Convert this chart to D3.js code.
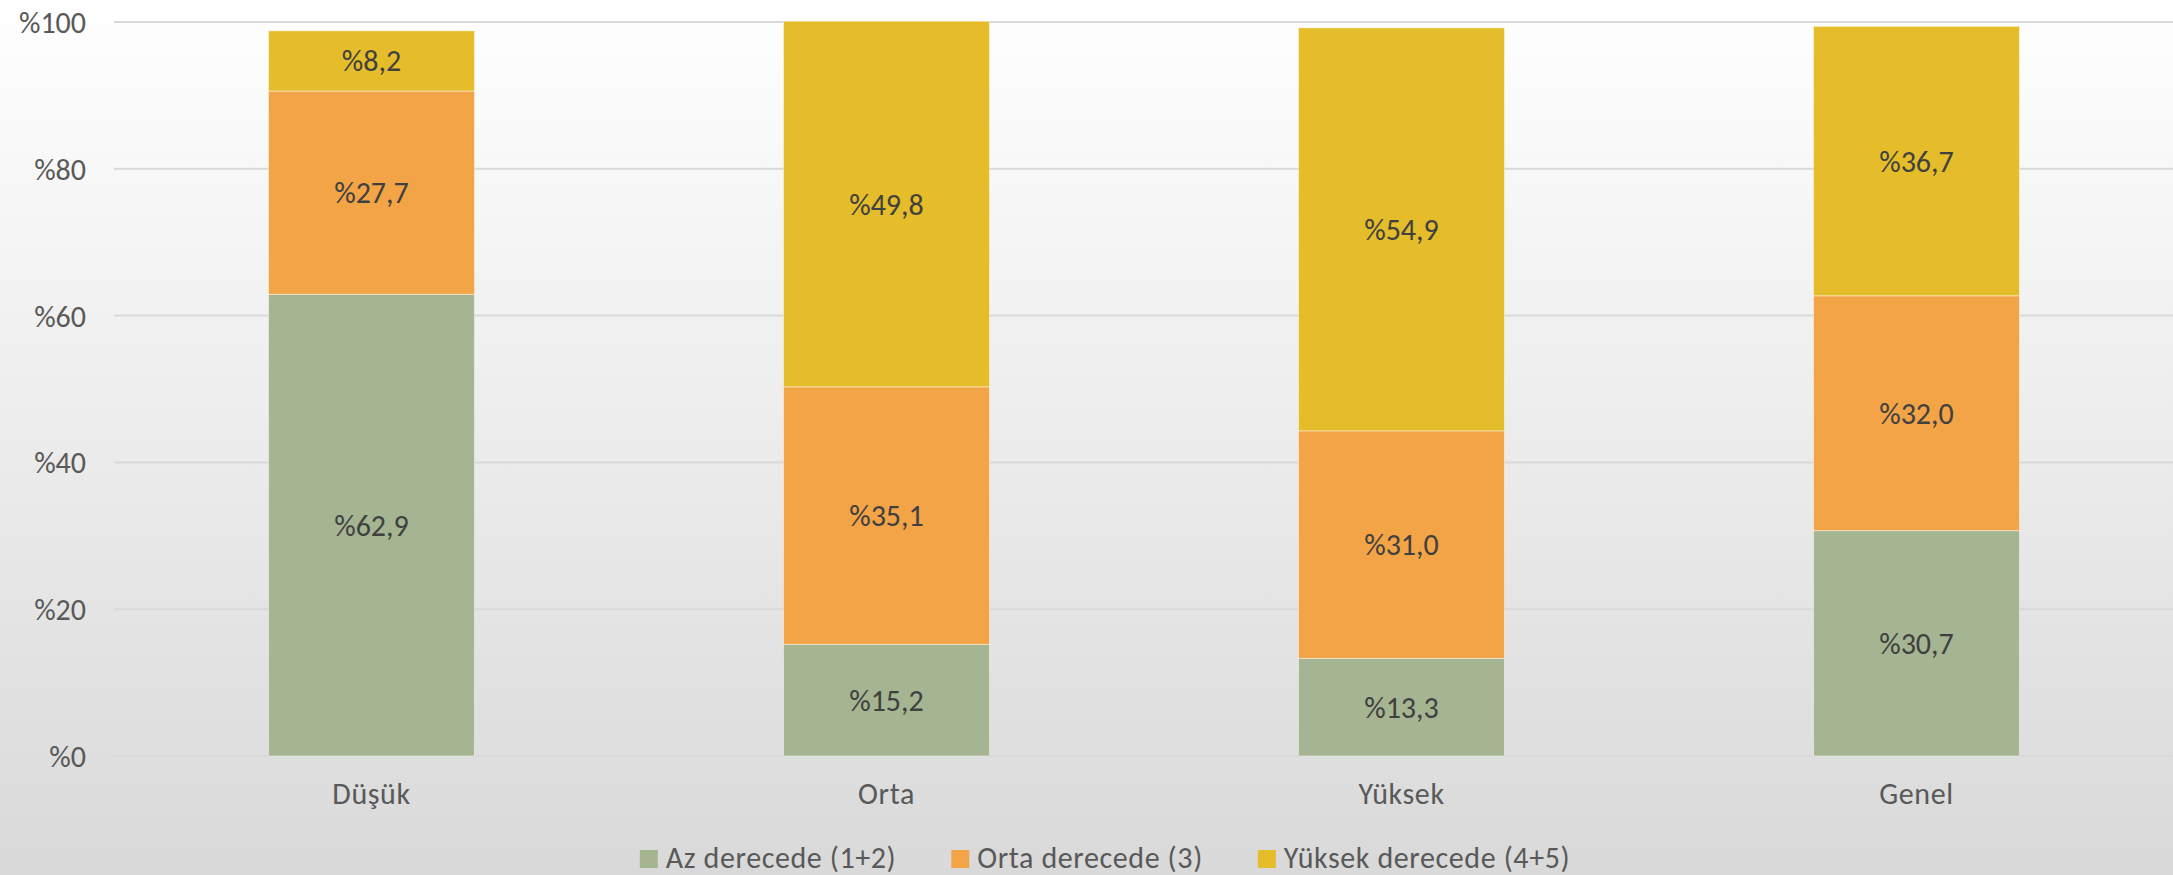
<!DOCTYPE html>
<html>
<head>
<meta charset="utf-8">
<script src="https://cdn.jsdelivr.net/npm/d3@7"></script>
<style>
  html, body { margin: 0; padding: 0; }
  body { width: 2173px; height: 875px; overflow: hidden; }
  svg { display: block; }
  text { font-family: Carlito, Lato, "Open Sans", sans-serif; }
</style>
</head>
<body>
<svg id="chart" width="2173" height="875"></svg>
<script>
const categories = ["Düşük", "Orta", "Yüksek", "Genel"];
const seriesNames = ["Az derecede (1+2)", "Orta derecede (3)", "Yüksek derecede (4+5)"];
const azValues = [62.9, 15.2, 13.3, 30.7];
const ortaValues = [27.7, 35.1, 31.0, 32.0];
const yuksekValues = [8.2, 49.8, 54.9, 36.7];
const yTicks = [0, 20, 40, 60, 80, 100];
const colors = ["#A5B592", "#F3A447", "#E5BC29"];

const W = 2173, H = 875;
const FS = 30;
const svg = d3.select("#chart");

// background gradient
const defs = svg.append("defs");
const grad = defs.append("linearGradient").attr("id", "bg").attr("x1", 0).attr("y1", 0).attr("x2", 0).attr("y2", 1);
grad.append("stop").attr("offset", "0%").attr("stop-color", "#ffffff");
grad.append("stop").attr("offset", "100%").attr("stop-color", "#d9d9d9");
svg.append("rect").attr("width", W).attr("height", H).attr("fill", "url(#bg)");

const x = d3.scaleBand().domain(categories).range([114, 2174]).paddingInner(0.6).paddingOuter(0.3);
const y = d3.scaleLinear().domain([0, 100]).range([756, 22]);

// gridlines
svg.append("g").selectAll("line").data(yTicks).join("line")
  .attr("x1", 114).attr("x2", W)
  .attr("y1", d => y(d)).attr("y2", d => y(d))
  .attr("stroke", "#d9d9d9").attr("stroke-width", 2);

// y axis labels
const yAxis = d3.axisLeft(y).tickValues(yTicks).tickSize(0).tickPadding(0).tickFormat(d => "%" + d);
const yg = svg.append("g").attr("transform", "translate(86,0)").call(yAxis);
yg.select(".domain").remove();
yg.selectAll("text").attr("font-size", FS).attr("fill", "#595959")
  .style("font-family", "Carlito, Lato, 'Open Sans', sans-serif").attr("dy", "0.35em");

// stacked data
const rows = categories.map((c, i) => ({ cat: c, s0: azValues[i], s1: ortaValues[i], s2: yuksekValues[i] }));
const stack = d3.stack().keys(["s0", "s1", "s2"]);
const stacked = stack(rows);

const fmt = v => "%" + v.toFixed(1).replace(".", ",");

const layers = svg.append("g").selectAll("g").data(stacked).join("g")
  .attr("fill", (d, i) => colors[i]);
layers.selectAll("rect").data(d => d).join("rect")
  .attr("x", d => x(d.data.cat))
  .attr("width", x.bandwidth())
  .attr("y", d => y(d[1]))
  .attr("height", d => y(d[0]) - y(d[1]))
  .attr("stroke", "rgba(255,255,255,0.45)").attr("stroke-width", 1);

// data labels
const labels = svg.append("g");
stacked.forEach((layer, li) => {
  labels.selectAll(null).data(layer).join("text")
    .attr("x", d => x(d.data.cat) + x.bandwidth() / 2)
    .attr("y", d => y((d[0] + d[1]) / 2))
    .attr("dy", "0.35em")
    .attr("text-anchor", "middle")
    .attr("font-size", FS)
    .attr("fill", "#404040")
    .text(d => fmt(d.data[layer.key]));
});

// x axis labels
const xAxis = d3.axisBottom(x).tickSize(0).tickPadding(0);
const xg = svg.append("g").attr("transform", "translate(0,804)").call(xAxis);
xg.select(".domain").remove();
xg.selectAll("text").attr("font-size", FS).attr("fill", "#595959")
  .style("font-family", "Carlito, Lato, 'Open Sans', sans-serif")
  .style("letter-spacing", "0.6px").attr("y", 0).attr("dy", "0em");

// legend
const legend = svg.append("g");
const items = legend.selectAll("g").data(seriesNames).join("g");
items.append("rect").attr("width", 18).attr("height", 18).attr("y", -18).attr("fill", (d, i) => colors[i]);
items.append("text").attr("x", 26).attr("y", 0).attr("font-size", FS).attr("fill", "#595959")
  .style("letter-spacing", "0.6px").text(d => d);
let cx = 0;
const offs = [];
items.each(function (d, i) {
  const tw = d3.select(this).select("text").node().getComputedTextLength();
  offs.push(cx);
  cx += 26 + tw + 55;
});
const total = cx - 55;
const startX = 1105 - total / 2;
items.attr("transform", (d, i) => `translate(${startX + offs[i]},868)`);
</script>
</body>
</html>
